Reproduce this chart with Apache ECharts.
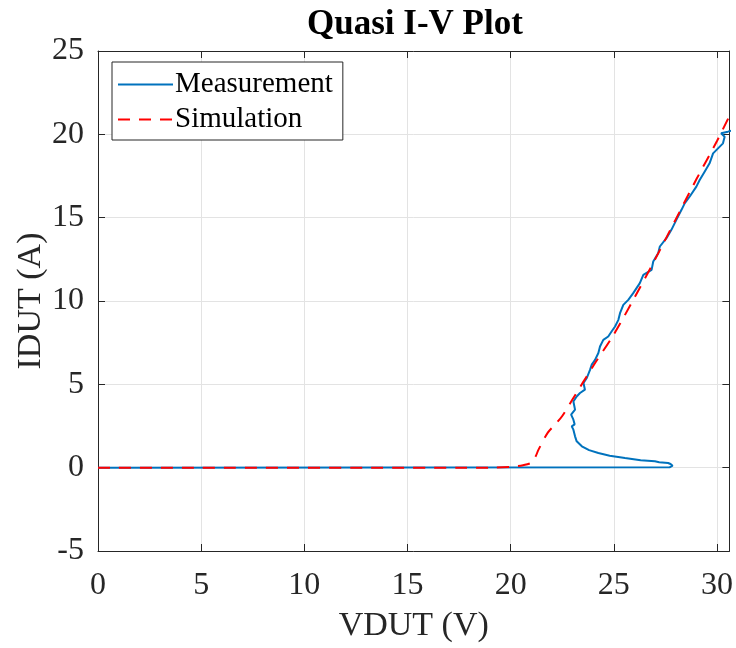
<!DOCTYPE html>
<html>
<head>
<meta charset="utf-8">
<script src="https://cdn.jsdelivr.net/npm/echarts@6/dist/echarts.min.js"></script>
<style>html,body{margin:0;padding:0;background:#fff;}#c{width:736px;height:648px;}</style>
</head>
<body>
<div id="c"></div>
<script>
const measV = [0, 27.7, 27.85, 27.75, 27.63, 27.2, 26.99, 26.3, 25.54, 24.8, 24.25, 23.8, 23.45, 23.2, 23.12, 23.04, 22.96, 23.1, 23.04, 22.93, 23.12, 23.04, 23.2, 23.36, 23.6, 23.53, 23.69, 23.85, 23.93, 24.09, 24.25, 24.33, 24.49, 24.73, 24.89, 25.06, 25.22, 25.3, 25.46, 25.7, 25.94, 26.26, 26.43, 26.83, 26.91, 27.15, 27.23, 27.55, 27.79, 28.03, 28.28, 28.44, 28.68, 29.0, 29.16, 29.4, 29.64, 29.81, 30.05, 30.29, 30.37, 30.2, 30.53, 30.8];
const measI = [0, 0.02, 0.12, 0.22, 0.28, 0.33, 0.38, 0.45, 0.58, 0.72, 0.88, 1.05, 1.28, 1.58, 1.88, 2.28, 2.48, 2.6, 2.88, 3.18, 3.48, 3.97, 4.27, 4.48, 4.68, 5.08, 5.38, 5.88, 6.18, 6.47, 6.88, 7.27, 7.67, 7.87, 8.17, 8.47, 8.87, 9.27, 9.77, 10.07, 10.47, 11.07, 11.57, 11.87, 12.37, 12.87, 13.27, 13.77, 14.27, 14.87, 15.47, 15.87, 16.27, 16.86, 17.26, 17.76, 18.26, 18.86, 19.16, 19.46, 19.86, 20.06, 20.16, 20.26];
const simV = [0, 19, 20, 20.6, 21.0, 21.2, 21.35, 21.8, 22.2, 22.5, 23, 24, 25, 26, 27, 28, 29, 30, 30.6];
const simI = [0, 0, 0.05, 0.15, 0.3, 0.65, 1.08, 2.1, 2.65, 3.1, 4.1, 6.1, 8.0, 10.2, 12.5, 14.9, 17.3, 19.6, 21.1];
const xTicks = {min: 0, max: 30.6, step: 5};
const yTicks = {min: -5, max: 25, step: 5};
const seriesNames = ['Measurement', 'Simulation'];
const titleText = 'Quasi I-V Plot';
const xName = 'VDUT (V)';
const yName = 'IDUT (A)';

const zip = (a, b) => a.map((v, i) => [v, b[i]]);
const serif = '"Liberation Serif", "DejaVu Serif", serif';
const axCol = '#262626';

const chart = echarts.init(document.getElementById('c'), null, {renderer: 'canvas'});
const baseX = {
  type: 'value', min: xTicks.min, max: xTicks.max, interval: xTicks.step,
  axisLine: {show: true, onZero: false, lineStyle: {color: axCol, width: 1}},
  axisTick: {show: true, inside: true, length: 7, lineStyle: {color: axCol}},
};
const baseY = {
  type: 'value', min: yTicks.min, max: yTicks.max, interval: yTicks.step,
  axisLine: {show: true, onZero: false, lineStyle: {color: axCol, width: 1}},
  axisTick: {show: true, inside: true, length: 7, lineStyle: {color: axCol}},
};
chart.setOption({
  animation: false,
  backgroundColor: '#fff',
  title: {
    text: titleText, left: 302, top: 2,
    textStyle: {fontFamily: serif, fontWeight: 'bold', fontSize: 35, color: '#000'}
  },
  grid: {left: 98, right: 4, top: 51, bottom: 97, containLabel: false},
  legend: {
    orient: 'vertical', left: 112, top: 62,
    padding: [5, 10, 3, 5], itemGap: 0, itemWidth: 55, itemHeight: 14,
    backgroundColor: '#fff', borderColor: axCol, borderWidth: 1, borderRadius: 0,
    itemStyle: {opacity: 0},
    textStyle: {fontFamily: serif, fontSize: 29, color: '#000', lineHeight: 35, padding: [0, 0, 0, -3]},
    data: seriesNames
  },
  xAxis: [
    Object.assign({}, baseX, {
      position: 'bottom',
      name: xName, nameLocation: 'middle', nameGap: 58, nameMoveOverlap: false,
      nameTextStyle: {fontFamily: serif, fontSize: 34, color: axCol},
      axisLabel: {fontFamily: serif, fontSize: 32, color: axCol, margin: 19, showMaxLabel: false},
      splitLine: {show: true, lineStyle: {color: '#e3e3e3', width: 1}}
    }),
    Object.assign({}, baseX, {
      position: 'top', axisLabel: {show: false}, splitLine: {show: false}
    })
  ],
  yAxis: [
    Object.assign({}, baseY, {
      position: 'left',
      name: yName, nameLocation: 'middle', nameGap: 50, nameRotate: 90, nameMoveOverlap: false,
      nameTextStyle: {fontFamily: serif, fontSize: 34, color: axCol},
      axisLabel: {fontFamily: serif, fontSize: 32, color: axCol, margin: 14},
      splitLine: {show: true, lineStyle: {color: '#e3e3e3', width: 1}}
    }),
    Object.assign({}, baseY, {
      position: 'right', axisLabel: {show: false}, splitLine: {show: false}
    })
  ],
  series: [
    {
      name: seriesNames[0], type: 'line', data: zip(measV, measI),
      symbol: 'none', showSymbol: false, clip: true,
      lineStyle: {color: '#0072BD', width: 2},
      itemStyle: {color: '#0072BD'}
    },
    {
      name: seriesNames[1], type: 'line', data: zip(simV, simI),
      symbol: 'none', showSymbol: false, clip: true, smooth: 0.3,
      lineStyle: {color: '#FF0000', width: 2, type: [12, 9]},
      itemStyle: {color: '#FF0000'}
    }
  ]
});
</script>
</body>
</html>
